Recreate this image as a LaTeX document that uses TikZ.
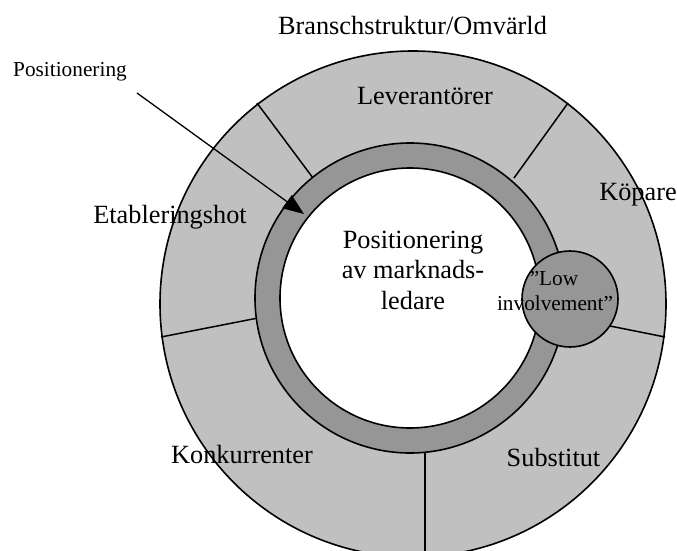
\documentclass[tikz,border=0pt]{standalone}
\usepackage{fontspec}
\setmainfont{Liberation Serif}
\usetikzlibrary{arrows.meta}
\definecolor{lightg}{RGB}{192,192,192}
\definecolor{darkg}{RGB}{150,150,150}
\begin{document}
\begin{tikzpicture}[x=1pt,y=-1pt, line width=1.5pt,
  big/.style={font=\fontsize{26.3}{30}\selectfont, inner sep=0pt, anchor=base},
  small/.style={font=\fontsize{21.3}{24}\selectfont, inner sep=0pt, anchor=base},
  spoke/.style={line width=1.5pt},
  ringline/.style={line width=1.6pt}]
\useasboundingbox (0,0) rectangle (677,551);
\fill[white] (0,0) rectangle (677,551);
% outer annulus
\filldraw[ringline, fill=lightg] (413,304) circle (253pt);
% spokes
\coordinate (ul1) at (313,178); \coordinate (ul2) at (257,103);
\coordinate (ur1) at (514,178); \coordinate (ur2) at (568,103);
\coordinate (l1) at (258,318);  \coordinate (l2) at (161,337);
\coordinate (r1) at (590,322);  \coordinate (r2) at (665,337);
\coordinate (b1) at (425,450);  \coordinate (b2) at (425,560);
\draw[spoke] (ul1) -- (ul2);
\draw[spoke] (ur1) -- (ur2);
\draw[spoke] (l1) -- (l2);
\draw[spoke] (r1) -- (r2);
\draw[spoke] (b1) -- (b2);
% inner ring
\filldraw[ringline, fill=darkg] (410,298) circle (155pt);
\filldraw[ringline, fill=white] (410,298) circle (130pt);
% small circle
\filldraw[ringline, fill=darkg] (570,299) circle (48pt);
% arrow
\coordinate (as) at (137,93);
\coordinate (at) at (304,214);
\draw[line width=1.3pt, -{Triangle[length=21pt,width=16pt]}] (as) -- (at);
% texts
\node[big] (title) at (412.5,35) {Branschstruktur/Omvärld};
\node[small] (pos) at (70,76) {Positionering};
\node[big] (lev) at (425,104) {Leverantörer};
\node[big] (kop) at (638,200) {Köpare};
\node[big] (etab) at (170,223) {Etableringshot};
\node[big] (konk) at (242,463) {Konkurrenter};
\node[big] (sub) at (553.5,466) {Substitut};
\node[big] (c1) at (413,248) {Positionering};
\node[big] (c2) at (413,278) {av marknads-};
\node[big] (c3) at (413,309) {ledare};
\node[small] (low1) at (554,285) {”Low};
\node[small] (low2) at (555,310) {involvement”};
\end{tikzpicture}
\end{document}
